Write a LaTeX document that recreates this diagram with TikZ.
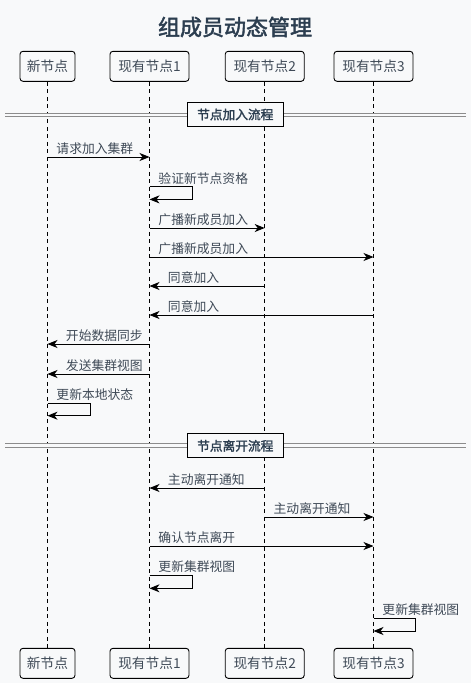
\documentclass[tikz,border=0pt]{standalone}
\usepackage{fontspec}
\setmainfont{Noto Sans CJK SC}[AutoFakeBold=2]
\usetikzlibrary{arrows.meta}
\definecolor{bgc}{HTML}{F8F9FA}
\definecolor{inkc}{HTML}{2C3E50}
\definecolor{txtc}{HTML}{3F4A57}

\begin{document}
\begin{tikzpicture}[
  x=1pt,y=-1pt,
  actor/.style={draw,rounded corners=3pt,fill=bgc,minimum width=79pt,minimum height=30pt,
    inner sep=0pt,line width=0.9pt,text=txtc,font=\fontsize{13.7}{16}\selectfont},
  lifeline/.style={dash pattern=on 4pt off 3.5pt,line width=0.9pt},
  message/.style={-{Stealth[length=10pt,width=8pt,inset=3pt]},line width=0.9pt},
  msgtext/.style={above=2pt,inner sep=0pt,anchor=south west,text=txtc,font=\fontsize{12.8}{15}\selectfont},
  fwdtext/.style={msgtext,xshift=8.5pt},
  backtext/.style={msgtext,xshift=18pt},
  phase/.style={draw,fill=bgc,line width=0.9pt,minimum width=96pt,minimum height=24pt,
    inner sep=0pt,text=inkc,font=\fontsize{12.7}{15}\selectfont\bfseries},
  divider/.style={draw=gray!90,double=bgc,double distance=2.4pt,line width=0.9pt}
]
  \useasboundingbox[fill=bgc] (0,0) rectangle (471,683);

  \node[font=\fontsize{22}{26}\selectfont\bfseries,text=inkc] (title) at (235,27) {组成员动态管理};

  % participants, top and bottom
  \node[actor,minimum width=55pt] (newT) at (47.5,66.3) {新节点};
  \node[actor] (ex1T) at (149.5,66.3) {现有节点1};
  \node[actor] (ex2T) at (264.7,66.3) {现有节点2};
  \node[actor] (ex3T) at (373.5,66.3) {现有节点3};
  \node[actor,minimum width=55pt] (newB) at (47.5,663.3) {新节点};
  \node[actor] (ex1B) at (149.5,663.3) {现有节点1};
  \node[actor] (ex2B) at (264.7,663.3) {现有节点2};
  \node[actor] (ex3B) at (373.5,663.3) {现有节点3};

  \foreach \p in {new,ex1,ex2,ex3}
    \draw[lifeline] (\p T.south) -- (\p B.north);

  % message rows
  \foreach \y [count=\i] in {157,186.7,228,257,286,315,344,374,403.3,488,517,546,575.3,618.3}
    \coordinate (r\i) at (0,\y);

  % phase dividers
  \coordinate (dl1) at (5,115);   \coordinate (dr1) at (466,115);
  \coordinate (dl2) at (5,445.5); \coordinate (dr2) at (466,445.5);
  \draw[divider] (dl1) -- (dr1);
  \draw[divider] (dl2) -- (dr2);
  \node[phase] (join) at (235.3,114.5) {节点加入流程};
  \node[phase] (leave) at (235.3,445.8) {节点离开流程};

  % join
  \draw[message] (newT |- r1) node[fwdtext] {请求加入集群} -- (ex1T |- r1);
  \draw[message] (ex1T |- r2) node[fwdtext] {验证新节点资格}
    -- ++(43,0) -- ++(0,12.7) -- ++(-43,0);
  \draw[message] (ex1T |- r3) node[fwdtext] {广播新成员加入} -- (ex2T |- r3);
  \draw[message] (ex1T |- r4) node[fwdtext] {广播新成员加入} -- (ex3T |- r4);
  \draw[message] (ex2T |- r5) -- (ex1T |- r5) node[backtext] {同意加入};
  \draw[message] (ex3T |- r6) -- (ex1T |- r6) node[backtext] {同意加入};
  \draw[message] (ex1T |- r7) -- (newT |- r7) node[backtext] {开始数据同步};
  \draw[message] (ex1T |- r8) -- (newT |- r8) node[backtext] {发送集群视图};
  \draw[message] (newT |- r9) node[fwdtext] {更新本地状态}
    -- ++(43,0) -- ++(0,12.4) -- ++(-43,0);

  % leave
  \draw[message] (ex2T |- r10) -- (ex1T |- r10) node[backtext] {主动离开通知};
  \draw[message] (ex2T |- r11) node[fwdtext] {主动离开通知} -- (ex3T |- r11);
  \draw[message] (ex1T |- r12) node[fwdtext] {确认节点离开} -- (ex3T |- r12);
  \draw[message] (ex1T |- r13) node[fwdtext] {更新集群视图}
    -- ++(43,0) -- ++(0,13) -- ++(-43,0);
  \draw[message] (ex3T |- r14) node[fwdtext] {更新集群视图}
    -- ++(42,0) -- ++(0,12.7) -- ++(-42,0);
\end{tikzpicture}
\end{document}
